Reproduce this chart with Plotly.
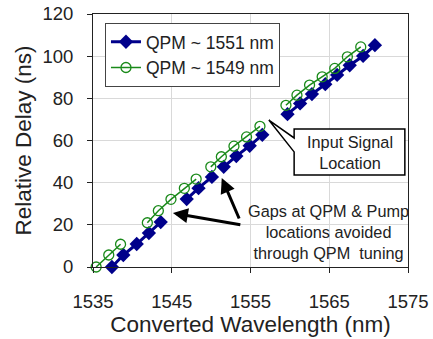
import plotly.graph_objects as go

# QPM ~ 1551 nm (None = line break at gaps)
blue_wl = [1537.4, 1538.85, 1540.55, 1542.1, 1543.6, None,
           1546.9, 1548.4, 1550.1, None,
           1551.6, 1553.2, 1554.9, 1556.5, None,
           1559.7, 1561.3, 1562.8, 1564.5, 1566.0, 1567.6, 1569.3, 1570.8]
blue_delay = [0, 5.7, 10.9, 16.1, 21.3, None,
              32.2, 37.4, 42.7, None,
              47.5, 52.6, 57.5, 62.7, None,
              72.5, 77.6, 82.0, 86.7, 91.1, 95.7, 100.1, 105.2]

# QPM ~ 1549 nm
green_wl = [1535.4, 1537.0, 1538.5, None,
            1541.9, 1543.3, 1544.9, 1546.6, 1548.1, None,
            1549.96, 1551.3, 1552.9, 1554.5, 1556.2, None,
            1559.5, 1560.9, 1562.5, 1564.1, 1565.7, 1567.3, 1569.0]
green_delay = [0, 5.7, 10.8, None,
               21.0, 26.7, 32.1, 37.3, 41.7, None,
               47.5, 52.3, 57.3, 61.7, 66.7, None,
               76.7, 81.5, 86.3, 90.2, 94.2, 99.7, 104.4]

x_ticks = [1535, 1545, 1555, 1565, 1575]
y_ticks = [0, 20, 40, 60, 80, 100, 120]

FONT = "Liberation Sans, Arial, sans-serif"

fig = go.Figure()
fig.add_trace(go.Scatter(
    x=blue_wl, y=blue_delay, mode="lines+markers", name="QPM ~ 1551 nm",
    line=dict(color="#00008B", width=3),
    marker=dict(symbol="diamond", size=11, color="#00008B"),
    cliponaxis=False, connectgaps=False))
fig.add_trace(go.Scatter(
    x=green_wl, y=green_delay, mode="lines+markers", name="QPM ~ 1549 nm",
    line=dict(color="#1a8a1a", width=1.5),
    marker=dict(symbol="circle-open", size=10, color="#1a8a1a", line=dict(width=1.3)),
    cliponaxis=False, connectgaps=False))

# Callout box "Input Signal Location"
fig.add_shape(type="path",
              path="M 1560.54,65.5 L 1574.6,65.5 L 1574.6,43.6 L 1560.54,43.6 "
                   "L 1560.54,54.6 L 1557.33,69.7 L 1560.54,61.2 Z",
              xref="x", yref="y", fillcolor="white",
              line=dict(color="black", width=1.5), layer="above")
fig.add_annotation(x=1567.6, y=54.5, xref="x", yref="y",
                   text="Input Signal<br>Location", showarrow=False,
                   font=dict(family=FONT, size=16.3, color="#222"))

# Arrows
for hx, hy, tx, ty in [(1545.15, 25.6, 1553.9, 19.9), (1551.35, 42.2, 1553.64, 22.3)]:
    fig.add_annotation(x=hx, y=hy, ax=tx, ay=ty, xref="x", yref="y",
                       axref="x", ayref="y", text="", showarrow=True,
                       arrowhead=2, arrowsize=1, arrowwidth=3, arrowcolor="black")

fig.add_annotation(x=1564.9, y=16.4, xref="x", yref="y",
                   text="Gaps at QPM & Pump<br>locations avoided<br>through QPM  tuning",
                   showarrow=False,
                   font=dict(family=FONT, size=16.3, color="#222"))

fig.update_layout(
    width=433, height=339,
    margin=dict(l=93, r=25, t=14, b=72),
    paper_bgcolor="white", plot_bgcolor="white",
    font=dict(family=FONT, color="#222"),
    showlegend=True,
    legend=dict(x=0.038, y=0.965, xanchor="left", yanchor="top",
                bgcolor="white", bordercolor="#444", borderwidth=1,
                font=dict(family=FONT, size=17.5, color="#222"),
                itemwidth=30, tracegroupgap=0),
    xaxis=dict(range=[1535, 1575], tickvals=x_ticks, ticktext=[str(v) for v in x_ticks],
               showgrid=True, gridcolor="#d9d9d9", gridwidth=1,
               showline=True, linecolor="#222", linewidth=1, mirror=True,
               ticks="outside", ticklen=5, tickcolor="#222", automargin=False,
               tickfont=dict(size=18.5), zeroline=False, ticklabelstandoff=13,
               title=dict(text="Converted Wavelength (nm)", font=dict(size=22.5), standoff=3)),
    yaxis=dict(range=[0, 120], tickvals=y_ticks, ticktext=[str(v) for v in y_ticks],
               showgrid=True, gridcolor="#d9d9d9", gridwidth=1,
               showline=True, linecolor="#222", linewidth=1, mirror=True,
               ticks="outside", ticklen=5, tickcolor="#222", automargin=False,
               tickfont=dict(size=18.5), zeroline=False, ticklabelstandoff=10,
               title=dict(text="Relative Delay (ns)", font=dict(size=22.5), standoff=4)),
)

fig.write_html("out.html")
